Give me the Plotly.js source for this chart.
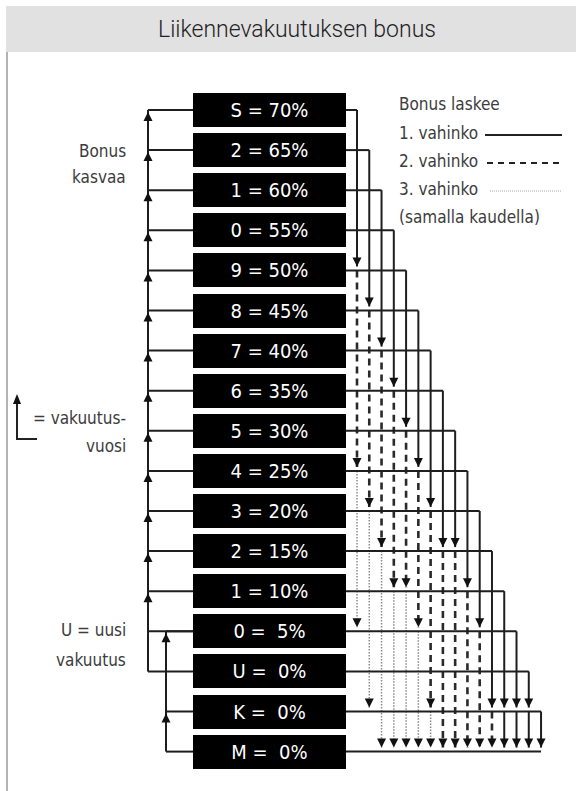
<!DOCTYPE html>
<html>
<head>
<meta charset="utf-8">
<script src="https://cdn.plot.ly/plotly-3.0.1.min.js"></script>
<style>html,body{margin:0;padding:0;background:#fff;}#chart{width:576px;height:791px;}</style>
</head>
<body>
<div id="chart"></div>
<script>
// ---------- DATA ----------
const bonusClasses = ['S','2','1','0','9','8','7','6','5','4','3','2','1','0','U','K','M'];
const bonusPercent = [70,65,60,55,50,45,40,35,30,25,20,15,10,5,0,0,0];

// Right side: chain of rows reached from each starting row (one chain per column)
const claimChains = [
  [0,4,9,13],[1,5,10,15],[2,6,11,16],[3,7,12,16],[4,8,12,16],[5,9,13,16],
  [6,10,15,16],[7,11,16],[8,11,16],[9,12,16],[10,13,16],[11,15,16],
  [12,15,16],[13,15,16],[14,15,16],[15,16]
];
// style of each segment of a chain: 1st, 2nd, 3rd claim
const claimStyles = [
  ['solid','dash','dot'],['solid','dash','dot'],['solid','dash','dot'],['solid','dash','dot'],
  ['solid','dash','dot'],['solid','dash','dot'],['solid','dash','dot'],['solid','dash'],
  ['solid','dash'],['solid','dash'],['solid','dash'],['solid','dash'],
  ['solid','solid'],['solid','solid'],['solid','solid'],['solid']
];
// Left side: bonus increase connectors
const outerLeftRows = [0,1,2,3,4,5,6,7,8,9,10,11,12,13,14];
const outerLeftArrows = [0,1,2,3,4,5,6,7,8,9,10,11,12];
const innerLeftRows = [13,15,16];
const innerLeftArrows = [13,15];

const titleText = 'Liikennevakuutuksen bonus';
const legendTexts = ['Bonus laskee','1. vahinko','2. vahinko','3. vahinko','(samalla kaudella)'];

// ---------- GEOMETRY ----------
const PX_PER_ROW = 40.1, ROW0_PX = 110;
const toRow = px => (px - ROW0_PX) / PX_PER_ROW;
const BOX_L = 193, BOX_R = 346, BOX_H = 34;
const COL_X0 = 357, COL_DX = 12.27;
const colX = k => COL_X0 + k * COL_DX;
const OUTER_X = 148, INNER_X = 166;
const TIP_DOWN = 4 / PX_PER_ROW, TIP_UP = 2 / PX_PER_ROW;
const NARROW = 'DejaVu Sans Condensed, DejaVu Sans, sans-serif';

const rows = bonusClasses.map((c, i) => i);
const labels = bonusClasses.map((c, i) => {
  const p = String(bonusPercent[i]);
  return c + ' =' + (p.length < 2 ? '\u00a0\u00a0' : ' ') + p + '%';
});

const lines = {solid:{x:[],y:[]}, dash:{x:[],y:[]}, dot:{x:[],y:[]}};
function seg(style, x0, y0, x1, y1){ const L = lines[style]; L.x.push(x0, x1, null); L.y.push(y0, y1, null); }
const downArrows = {x:[], y:[]}, upArrows = {x:[], y:[]};

// right-side horizontals
rows.forEach(r => {
  const xEnd = r < claimChains.length ? colX(r) : colX(claimChains.length - 1);
  seg('solid', BOX_R, r, xEnd, r);
});
// chains
claimChains.forEach((chain, k) => {
  const x = colX(k);
  for (let s = 0; s < chain.length - 1; s++) {
    seg(claimStyles[k][s], x, chain[s], x, chain[s+1] - TIP_DOWN);
    downArrows.x.push(x); downArrows.y.push(chain[s+1] - TIP_DOWN);
  }
});
// left side
outerLeftRows.forEach(r => seg('solid', OUTER_X, r, BOX_L, r));
seg('solid', OUTER_X, Math.min(...outerLeftRows), OUTER_X, Math.max(...outerLeftRows));
outerLeftArrows.forEach(r => { upArrows.x.push(OUTER_X); upArrows.y.push(r + TIP_UP); });
innerLeftRows.forEach(r => seg('solid', INNER_X, r, BOX_L, r));
seg('solid', INNER_X, Math.min(...innerLeftRows), INNER_X, Math.max(...innerLeftRows));
innerLeftArrows.forEach(r => { upArrows.x.push(INNER_X); upArrows.y.push(r + TIP_UP); });

const traces = [
  {type:'scatter', mode:'lines', x:lines.dot.x, y:lines.dot.y, line:{color:'#8a8a8a', width:1.5, dash:'1.5px,1.5px'}, hoverinfo:'skip'},
  {type:'scatter', mode:'lines', x:lines.dash.x, y:lines.dash.y, line:{color:'#2a2a2a', width:2.6, dash:'7px,5px'}, hoverinfo:'skip'},
  {type:'scatter', mode:'lines', x:lines.solid.x, y:lines.solid.y, line:{color:'#1e1e1e', width:2}, hoverinfo:'skip'},
  {type:'bar', orientation:'h', y:rows, x:rows.map(() => BOX_R - BOX_L), base:BOX_L,
   width:BOX_H / PX_PER_ROW, marker:{color:'#000'}, text:labels, textposition:'inside',
   insidetextanchor:'middle', constraintext:'none', textangle:0,
   textfont:{family:NARROW, size:20, color:'#fff', stretch:'condensed', weight:500}, hoverinfo:'skip'},
  {type:'scatter', mode:'markers', x:downArrows.x, y:downArrows.y, marker:{symbol:'arrow-down', size:9, color:'#111', line:{width:0}}, hoverinfo:'skip'},
  {type:'scatter', mode:'markers', x:upArrows.x, y:upArrows.y, marker:{symbol:'arrow-up', size:9, color:'#111', line:{width:0}}, hoverinfo:'skip'}
];

const txtFont = {family:NARROW, size:17, color:'#3c3c3c', stretch:'condensed'};
const ann = (text, x, ypx, xanchor) => ({text, x, y:toRow(ypx), xref:'x', yref:'y', xanchor, yanchor:'middle', showarrow:false, font:txtFont});
const legendY = [104, 133, 161, 189, 217];
const annotations = [
  ann('Bonus', 128, 151, 'right'), ann('kasvaa', 128, 177, 'right'),
  ann('= vakuutus-', 128, 418, 'right'), ann('vuosi', 128, 446, 'right'),
  ann('U = uusi', 128, 630, 'right'), ann('vakuutus', 128, 660, 'right')
].concat(legendTexts.map((t, i) => ann(t, 397, legendY[i], 'left')));

const shapes = [
  {type:'rect', xref:'x', yref:'y', x0:6, x1:576, y0:toRow(6), y1:toRow(52), fillcolor:'#e1e1e1', line:{width:0}, layer:'below'},
  {type:'line', xref:'x', yref:'y', x0:7, x1:7, y0:toRow(52), y1:toRow(791), line:{color:'#9a9a9a', width:1.5}},
  {type:'line', xref:'x', yref:'y', x0:485, x1:562, y0:toRow(135), y1:toRow(135), line:{color:'#222', width:1.8}},
  {type:'line', xref:'x', yref:'y', x0:487, x1:562, y0:toRow(163), y1:toRow(163), line:{color:'#222', width:2, dash:'6px,5px'}},
  {type:'line', xref:'x', yref:'y', x0:490, x1:562, y0:toRow(191), y1:toRow(191), line:{color:'#aaa', width:1.2, dash:'1px,1px'}},
  {type:'line', xref:'x', yref:'y', x0:17, x1:17, y0:toRow(439), y1:toRow(401), line:{color:'#222', width:2}},
  {type:'line', xref:'x', yref:'y', x0:16, x1:37, y0:toRow(439), y1:toRow(439), line:{color:'#222', width:2}},
  {type:'path', xref:'x', yref:'y', path:'M 13,' + toRow(404) + ' L 17,' + toRow(394) + ' L 21,' + toRow(404) + ' Z', fillcolor:'#111', line:{width:0}}
];

const layout = {
  width:576, height:791, margin:{l:0, r:0, t:0, b:0},
  paper_bgcolor:'#fff', plot_bgcolor:'#fff', showlegend:false, hovermode:false,
  title:{text:titleText, x:297/576, xanchor:'center', y:1 - 29/791, yanchor:'middle', yref:'container',
         font:{family:'Roboto, sans-serif', size:23, color:'#222', weight:300}},
  xaxis:{range:[0,576], visible:false, fixedrange:true},
  yaxis:{range:[toRow(791), toRow(0)], visible:false, fixedrange:true},
  annotations, shapes, bargap:0
};
Plotly.newPlot('chart', traces, layout, {staticPlot:true, displayModeBar:false});
</script>
</body>
</html>
